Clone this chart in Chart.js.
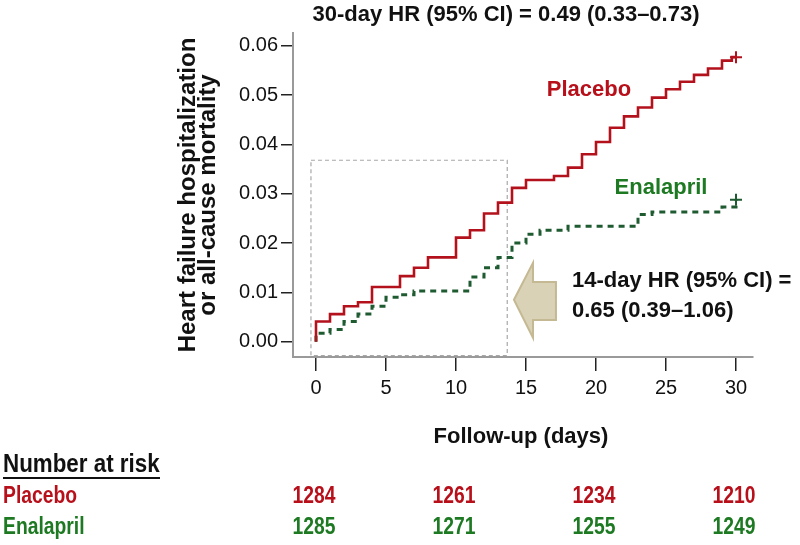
<!DOCTYPE html>
<html><head><meta charset="utf-8">
<script src="https://cdn.jsdelivr.net/npm/chart.js@4"></script>
<style>html,body{margin:0;padding:0;background:#fff;}canvas{display:block;}</style>
</head><body>
<canvas id="c" width="800" height="545"></canvas>
<script>
// ---- data ----
const placeboDays = [0,0,1,2,3,4,6,7,8,10,11,12,13,14,15,17,18,19,20,21,22,23,24,25,26,27,28,29,29.7,30];
const placeboRisk = [0,0.0041,0.0056,0.0072,0.0080,0.0111,0.0133,0.0150,0.0171,0.0211,0.0226,0.0260,0.0282,0.0312,0.0328,0.0336,0.0353,0.0380,0.0405,0.0434,0.0457,0.0475,0.0495,0.0512,0.0527,0.0541,0.0554,0.0570,0.0577,0.0577];
const enalaprilDays = [0,0,1,2,3,4,5,6,7,11,12,13,14,15,16,18,23,24,29,30];
const enalaprilRisk = [0,0.0017,0.0025,0.0041,0.0056,0.0072,0.0090,0.0095,0.0103,0.0131,0.0150,0.0171,0.0200,0.0218,0.0226,0.0234,0.0258,0.0263,0.0273,0.0288];
const xTicks = [0,5,10,15,20,25,30];
const yTicks = [0,0.01,0.02,0.03,0.04,0.05,0.06];
const riskDays = [0,10,20,30];
const riskPlacebo = [1284,1261,1234,1210];
const riskEnalapril = [1285,1271,1255,1249];
const seriesNames = ['Placebo','Enalapril'];
const titleText = '30-day HR (95% CI) = 0.49 (0.33\u20130.73)';
const hr14Lines = ['14-day HR (95% CI) =','0.65 (0.39\u20131.06)'];
const yTitleLines = ['Heart failure hospitalization','or all-cause mortality'];
const xTitleText = 'Follow-up (days)';
const riskTitle = 'Number at risk';
// 14-day window box (days, risk)
const boxWindow = {x0:-0.36, x1:13.66, y0:-0.0028, y1:0.0368};

const RED = '#b3121d', GREEN = '#1e5b31', RED_T = '#b8101b', GREEN_T = '#1d7a22';
const FONT = '"Liberation Sans", Arial, sans-serif';

function narrowText(ctx, txt, px, py, sx, align){
  ctx.save(); ctx.translate(px, py); ctx.scale(sx, 1);
  ctx.textAlign = align; ctx.fillText(txt, 0, 0); ctx.restore();
}

const annot = {
  id:'annot',
  beforeDatasetsDraw(chart){
    const {ctx, scales:{x,y}} = chart;
    ctx.save();
    ctx.strokeStyle = '#a8a8a8'; ctx.lineWidth = 1.2; ctx.setLineDash([4,3]);
    const L = x.getPixelForValue(boxWindow.x0), R = x.getPixelForValue(boxWindow.x1);
    const T = y.getPixelForValue(boxWindow.y1), B = y.getPixelForValue(boxWindow.y0);
    ctx.strokeRect(L, T, R-L, B-T);
    ctx.restore();
  },
  afterDraw(chart){
    const {ctx, scales:{x,y}} = chart;
    ctx.save();
    // arrow
    const P = (d,v)=>[x.getPixelForValue(d), y.getPixelForValue(v)];
    const pts = [P(14.14,0.0085),P(15.5,0.0160),P(15.5,0.0121),P(17.14,0.0121),P(17.14,0.0044),P(15.5,0.0044),P(15.5,0.0008)];
    ctx.beginPath(); pts.forEach((p,i)=> i?ctx.lineTo(p[0],p[1]):ctx.moveTo(p[0],p[1])); ctx.closePath();
    ctx.fillStyle = '#d9d2b6'; ctx.fill(); ctx.strokeStyle = '#c4b993'; ctx.lineWidth = 2; ctx.stroke();
    // title
    ctx.textBaseline = 'middle'; ctx.fillStyle = '#111';
    ctx.font = 'bold 22px ' + FONT; ctx.textAlign = 'center';
    ctx.fillText(titleText, 506, 15);
    ctx.fillText(xTitleText, 521, 437);
    // y title
    ctx.save(); ctx.translate(188, 195); ctx.rotate(-Math.PI/2);
    ctx.font = 'bold 24px ' + FONT;
    ctx.fillText(yTitleLines[0], 0, 0); ctx.fillText(yTitleLines[1], 0, 20);
    ctx.restore();
    // series labels
    ctx.font = 'bold 22px ' + FONT;
    ctx.fillStyle = RED_T; ctx.fillText(seriesNames[0], 589, 90);
    ctx.fillStyle = GREEN_T; ctx.fillText(seriesNames[1], 661, 188);
    ctx.fillStyle = '#111'; ctx.textAlign = 'left';
    ctx.fillText(hr14Lines[0], 572, 281); ctx.fillText(hr14Lines[1], 572, 311);
    // risk table
    ctx.font = 'bold 26px ' + FONT;
    narrowText(ctx, riskTitle, 3, 465, 0.86, 'left');
    ctx.fillRect(3, 477, 157, 2);
    ctx.font = 'bold 23px ' + FONT;
    ctx.fillStyle = RED_T; narrowText(ctx, seriesNames[0], 3, 497, 0.84, 'left');
    ctx.fillStyle = GREEN_T; narrowText(ctx, seriesNames[1], 3, 528, 0.84, 'left');
    riskDays.forEach((d,i)=>{
      const px = x.getPixelForValue(d) - 2;
      ctx.fillStyle = RED_T; narrowText(ctx, String(riskPlacebo[i]), px, 497, 0.84, 'center');
      ctx.fillStyle = GREEN_T; narrowText(ctx, String(riskEnalapril[i]), px, 528, 0.84, 'center');
    });
    ctx.restore();
  }
};

const mk = (days, vals) => days.map((d,i)=>({x:d, y:vals[i]}));
const lastOnly = n => (c => c.dataIndex === n-1 ? 6 : 0);

new Chart(document.getElementById('c'), {
  type:'line',
  data:{datasets:[
    {label:seriesNames[0], data:mk(placeboDays, placeboRisk), stepped:true, borderColor:RED, borderWidth:2.6,
     pointStyle:'cross', pointRadius:lastOnly(placeboDays.length), pointBorderColor:RED, pointBorderWidth:2, fill:false},
    {label:seriesNames[1], data:mk(enalaprilDays, enalaprilRisk), stepped:true, borderColor:GREEN, borderWidth:3, borderDash:[6,5],
     pointStyle:'cross', pointRadius:lastOnly(enalaprilDays.length), pointBorderColor:GREEN, pointBorderWidth:2, fill:false}
  ]},
  options:{
    responsive:false, animation:false, devicePixelRatio:1,
    layout:{padding:{left:0,right:47,top:33,bottom:0}},
    plugins:{legend:{display:false}, tooltip:{enabled:false}},
    scales:{
      x:{type:'linear', min:-23/14, max:30+17/14,
         afterBuildTicks:s=>{s.ticks = xTicks.map(v=>({value:v}));},
         ticks:{font:{family:FONT,size:20}, color:'#111', padding:5, maxRotation:0, autoSkip:false},
         grid:{drawOnChartArea:false, tickLength:14, color:'#222', lineWidth:1.5},
         border:{color:'#9a9a9a', width:2},
         afterFit:s=>{s.height = 188;}},
      y:{type:'linear', min:-0.0031, max:0.0626,
         afterBuildTicks:s=>{s.ticks = yTicks.map(v=>({value:v}));},
         ticks:{font:{family:FONT,size:20}, color:'#111', padding:3, callback:v=>Number(v).toFixed(2), autoSkip:false},
         grid:{drawOnChartArea:false, tickLength:12, color:'#222', lineWidth:1.5},
         border:{color:'#9a9a9a', width:2},
         afterFit:s=>{s.width = 293;}}
    }
  },
  plugins:[annot]
});
</script>
</body></html>
